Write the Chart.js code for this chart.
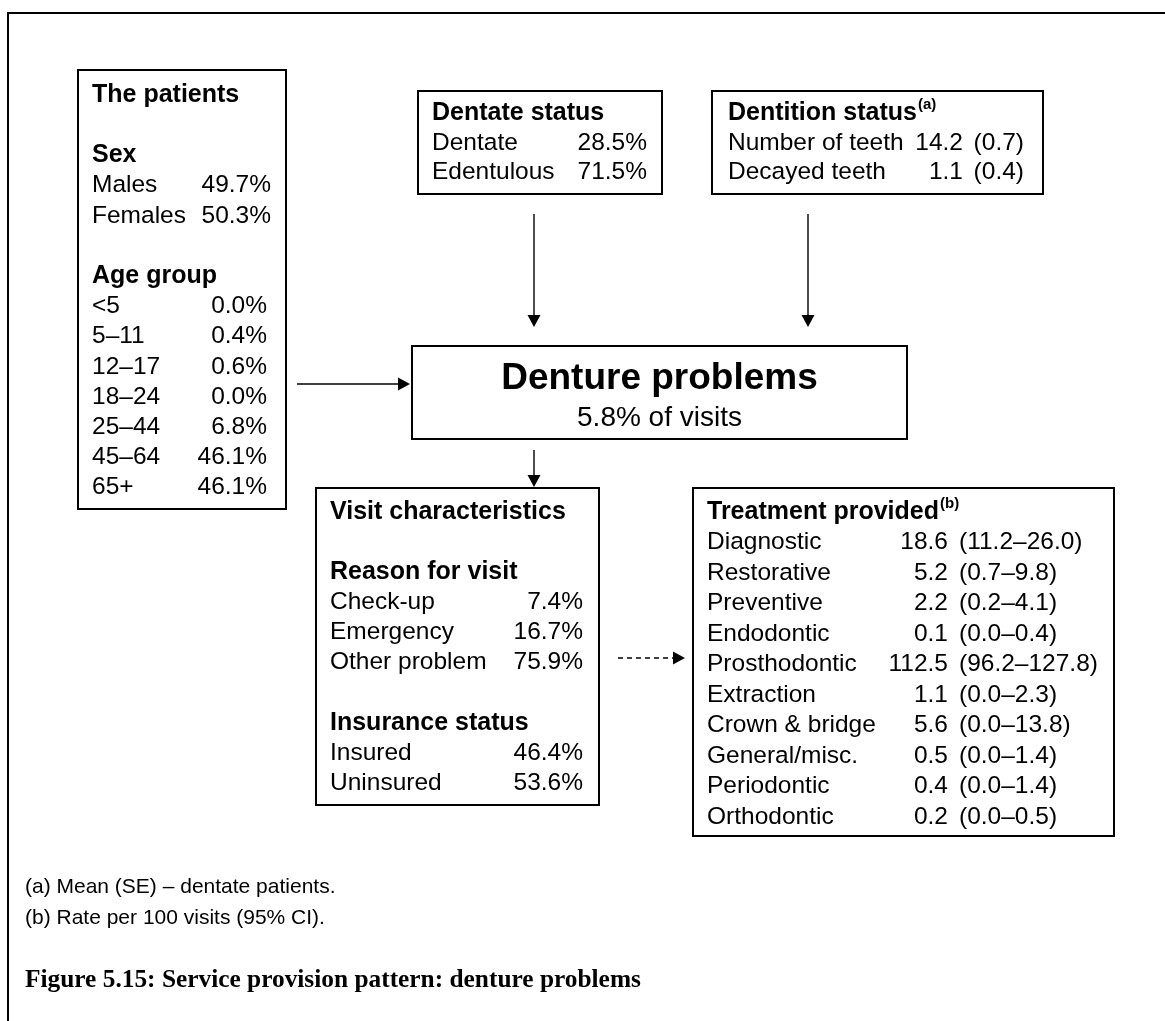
<!DOCTYPE html>
<html>
<head>
<meta charset="utf-8">
<script src="https://cdn.jsdelivr.net/npm/chart.js@4/dist/chart.umd.min.js"></script>
<style>
html,body{margin:0;padding:0;background:#fff;}
#wrap{width:1165px;height:1021px;}
canvas{display:block;}
</style>
</head>
<body>
<div id="wrap"><canvas id="c" width="1165" height="1021"></canvas></div>
<script>
// ---- Data ----
const sexLabels = ['Males', 'Females'];
const sexValues = [49.7, 50.3];
const ageLabels = ['<5', '5–11', '12–17', '18–24', '25–44', '45–64', '65+'];
const ageValues = [0.0, 0.4, 0.6, 0.0, 6.8, 46.1, 46.1];
const dentateLabels = ['Dentate', 'Edentulous'];
const dentateValues = [28.5, 71.5];
const dentitionLabels = ['Number of teeth', 'Decayed teeth'];
const dentitionMeans = [14.2, 1.1];
const dentitionSE = [0.7, 0.4];
const denturePctOfVisits = 5.8;
const reasonLabels = ['Check-up', 'Emergency', 'Other problem'];
const reasonValues = [7.4, 16.7, 75.9];
const insuranceLabels = ['Insured', 'Uninsured'];
const insuranceValues = [46.4, 53.6];
const treatmentLabels = ['Diagnostic', 'Restorative', 'Preventive', 'Endodontic', 'Prosthodontic',
  'Extraction', 'Crown & bridge', 'General/misc.', 'Periodontic', 'Orthodontic'];
const treatmentRates = [18.6, 5.2, 2.2, 0.1, 112.5, 1.1, 5.6, 0.5, 0.4, 0.2];
const treatmentCILow = [11.2, 0.7, 0.2, 0.0, 96.2, 0.0, 0.0, 0.0, 0.0, 0.0];
const treatmentCIHigh = [26.0, 9.8, 4.1, 0.4, 127.8, 2.3, 13.8, 1.4, 1.4, 0.5];
const footnotes = ['(a) Mean (SE) – dentate patients.', '(b) Rate per 100 visits (95% CI).'];
const captionText = 'Figure 5.15: Service provision pattern: denture problems';

const SANS = '"Liberation Sans", Arial, sans-serif';
const SERIF = '"Liberation Serif", "DejaVu Serif", serif';
const pct = v => v.toFixed(1) + '%';

const diagramPlugin = {
  id: 'diagram',
  afterDraw(chart) {
    const ctx = chart.ctx;
    const sx = chart.scales.x, sy = chart.scales.y;
    const X = v => sx.getPixelForValue(v);
    const Y = v => sy.getPixelForValue(v);
    ctx.save();
    ctx.fillStyle = '#000';
    ctx.strokeStyle = '#000';
    ctx.textBaseline = 'middle';

    const rect = (x1, y1, x2, y2, lw) => {
      ctx.lineWidth = lw || 2;
      ctx.setLineDash([]);
      ctx.strokeRect(X(x1), Y(y1), X(x2) - X(x1), Y(y2) - Y(y1));
    };
    const txt = (s, x, y, size, bold, align) => {
      ctx.font = (bold ? 'bold ' : '') + size + 'px ' + SANS;
      ctx.textAlign = align || 'left';
      ctx.fillText(s, X(x), Y(y));
      return ctx.measureText(s).width;
    };
    const sup = (title, mark, x, y) => {
      const w = txt(title, x, y, 25, true);
      ctx.font = 'bold 15px ' + SANS;
      ctx.textAlign = 'left';
      ctx.fillText(mark, X(x) + w + 1, Y(y) - 8);
    };
    const arrow = (x1, y1, x2, y2, dashed) => {
      const px1 = X(x1), py1 = Y(y1), px2 = X(x2), py2 = Y(y2);
      const ang = Math.atan2(py2 - py1, px2 - px1);
      const L = 12, H = 6.5;
      const bx = px2 - L * Math.cos(ang), by = py2 - L * Math.sin(ang);
      ctx.lineWidth = 1.4;
      ctx.setLineDash(dashed ? [5, 4] : []);
      ctx.beginPath(); ctx.moveTo(px1, py1); ctx.lineTo(bx, by); ctx.stroke();
      ctx.setLineDash([]);
      ctx.beginPath();
      ctx.moveTo(px2, py2);
      ctx.lineTo(bx - H * Math.sin(ang), by + H * Math.cos(ang));
      ctx.lineTo(bx + H * Math.sin(ang), by - H * Math.cos(ang));
      ctx.closePath(); ctx.fill();
    };

    // outer frame
    rect(8, 13, 1175, 1035, 2);

    // The patients
    rect(78, 70, 286, 509);
    const pl = 30.2, p0 = 95;
    txt('The patients', 92, p0, 25, true);
    txt('Sex', 92, p0 + 2 * pl, 25, true);
    sexLabels.forEach((l, i) => {
      txt(l, 92, p0 + (3 + i) * pl, 24.5);
      txt(pct(sexValues[i]), 271, p0 + (3 + i) * pl, 24.5, false, 'right');
    });
    txt('Age group', 92, p0 + 6 * pl, 25, true);
    ageLabels.forEach((l, i) => {
      txt(l, 92, p0 + (7 + i) * pl, 24.5);
      txt(pct(ageValues[i]), 267, p0 + (7 + i) * pl, 24.5, false, 'right');
    });

    // Dentate status
    rect(418, 91, 662, 194);
    txt('Dentate status', 432, 113, 25, true);
    dentateLabels.forEach((l, i) => {
      txt(l, 432, 143 + i * 29.5, 24.5);
      txt(pct(dentateValues[i]), 647, 143 + i * 29.5, 24.5, false, 'right');
    });

    // Dentition status
    rect(712, 91, 1043, 194);
    sup('Dentition status', '(a)', 728, 113);
    dentitionLabels.forEach((l, i) => {
      txt(l, 728, 143 + i * 29.5, 24.5);
      txt(dentitionMeans[i].toFixed(1), 963, 143 + i * 29.5, 24.5, false, 'right');
      txt('(' + dentitionSE[i].toFixed(1) + ')', 1024, 143 + i * 29.5, 24.5, false, 'right');
    });

    // arrows into centre
    arrow(534, 214, 534, 327);
    arrow(808, 214, 808, 327);
    arrow(297, 384, 410, 384);

    // Denture problems
    rect(412, 346, 907, 439);
    txt('Denture problems', 659.5, 379, 37, true, 'center');
    txt(denturePctOfVisits.toFixed(1) + '% of visits', 659.5, 418, 28, false, 'center');

    arrow(534, 450, 534, 487);

    // Visit characteristics
    rect(316, 488, 599, 805);
    const vl = 30.1, v0 = 512;
    txt('Visit characteristics', 330, v0, 25, true);
    txt('Reason for visit', 330, v0 + 2 * vl, 25, true);
    reasonLabels.forEach((l, i) => {
      txt(l, 330, v0 + (3 + i) * vl, 24.5);
      txt(pct(reasonValues[i]), 583, v0 + (3 + i) * vl, 24.5, false, 'right');
    });
    txt('Insurance status', 330, v0 + 7 * vl, 25, true);
    insuranceLabels.forEach((l, i) => {
      txt(l, 330, v0 + (8 + i) * vl, 24.5);
      txt(pct(insuranceValues[i]), 583, v0 + (8 + i) * vl, 24.5, false, 'right');
    });

    arrow(618, 658, 685, 658, true);

    // Treatment provided
    rect(693, 488, 1114, 836);
    const tl = 30.5, t0 = 512;
    sup('Treatment provided', '(b)', 707, t0);
    treatmentLabels.forEach((l, i) => {
      const y = t0 + (1 + i) * tl;
      txt(l, 707, y, 24.5);
      txt(treatmentRates[i].toFixed(1), 948, y, 24.5, false, 'right');
      txt('(' + treatmentCILow[i].toFixed(1) + '–' + treatmentCIHigh[i].toFixed(1) + ')', 959, y, 24.5);
    });

    // footnotes
    footnotes.forEach((f, i) => txt(f, 25, 887 + i * 31, 21));

    // caption
    ctx.font = 'bold 100px ' + SERIF;
    const w100 = ctx.measureText(captionText).width;
    const cs = Math.min(30, 100 * 616 / w100);
    ctx.font = 'bold ' + cs.toFixed(2) + 'px ' + SERIF;
    ctx.textAlign = 'left';
    ctx.fillText(captionText, X(25), Y(980));

    ctx.restore();
  }
};

new Chart(document.getElementById('c'), {
  type: 'scatter',
  data: { datasets: [{ data: [], pointRadius: 0 }] },
  options: {
    responsive: false,
    animation: false,
    devicePixelRatio: 1,
    layout: { padding: 0 },
    plugins: { legend: { display: false }, tooltip: { enabled: false } },
    scales: {
      x: { type: 'linear', min: 0, max: 1165, display: false },
      y: { type: 'linear', min: 0, max: 1021, reverse: true, display: false }
    }
  },
  plugins: [diagramPlugin]
});
</script>
</body>
</html>
